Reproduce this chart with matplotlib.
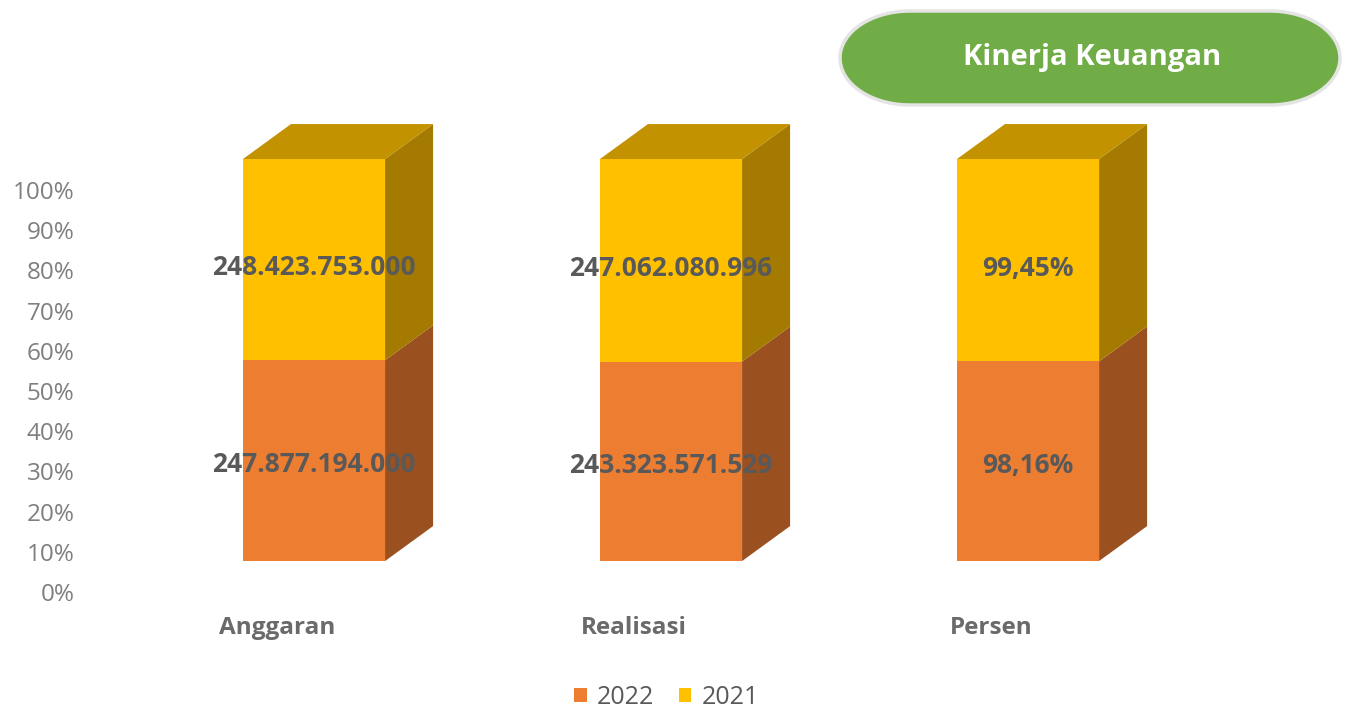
import matplotlib
matplotlib.use("Agg")
import numpy as np
import matplotlib.pyplot as plt
from matplotlib.patches import Polygon, Patch
from matplotlib.transforms import IdentityTransform

plt.rcParams['font.family'] = ['Open Sans', 'DejaVu Sans']

# data
categories = ['Anggaran', 'Realisasi', 'Persen']
val_2022 = [247877194000, 243323571529, 98.16]
val_2021 = [248423753000, 247062080996, 99.45]
text_2022 = ['247.877.194.000', '243.323.571.529', '98,16%']
text_2021 = ['248.423.753.000', '247.062.080.996', '99,45%']
series_names = ['2022', '2021']

# colours: front, side, top
c22 = ('#ED7D31', '#9B5020', '#B8601F')
c21 = ('#FFC000', '#A47B00', '#C29200')

# 3d box settings
width = 0.398
dx, dy = 0.1345, 8.7      # depth offset (x units, percent units)
base = 7.7                # floor offset of the front faces

fig = plt.figure(figsize=(13.49, 7.13), dpi=100)
ax = fig.add_axes([80 / 1349, 0, 1 - 80 / 1349, 1])
ax.set_xlim(-0.6555, 2.899)
ax.set_ylim(-30.1, 147.26)
for s in ax.spines.values():
    s.set_visible(False)
ax.set_xticks([])
ax.set_yticks(range(0, 101, 10))
ax.set_yticklabels([f'{v}%' for v in range(0, 101, 10)])
ax.tick_params(axis='y', length=0, pad=4, labelsize=17.5, labelcolor='#7F7F7F')


def box(x0, x1, y0, y1, colors, top=False):
    front, side, topc = colors
    ax.add_patch(Polygon([(x0, y0), (x1, y0), (x1, y1), (x0, y1)],
                         closed=True, fc=front, ec='none'))
    ax.add_patch(Polygon([(x1, y0), (x1 + dx, y0 + dy), (x1 + dx, y1 + dy), (x1, y1)],
                         closed=True, fc=side, ec='none'))
    if top:
        ax.add_patch(Polygon([(x0, y1), (x0 + dx, y1 + dy), (x1 + dx, y1 + dy), (x1, y1)],
                             closed=True, fc=topc, ec='none'))


for i, cat in enumerate(categories):
    total = val_2022[i] + val_2021[i]
    p22 = val_2022[i] / total * 100
    p21 = val_2021[i] / total * 100
    x0, x1 = i - width / 2, i + width / 2
    b, s, t = base, base + p22, base + p22 + p21
    box(x0, x1, b, s, c22)
    box(x0, x1, s, t, c21, top=True)
    ax.text(i, (b + s) / 2 - 1.0, text_2022[i], ha='center', va='center',
            fontsize=19, fontweight='bold', color='#595959')
    ax.text(i, (s + t) / 2 - 2.0, text_2021[i], ha='center', va='center',
            fontsize=19, fontweight='bold', color='#595959')
    ax.text(i - 0.104, -9, cat, ha='center', va='center',
            fontsize=17.5, fontweight='bold', color='#6A6A6A')

# legend
handles = [Patch(fc=c22[0], ec='none'), Patch(fc=c21[0], ec='none')]
fig.legend(handles, series_names, loc='center', bbox_to_anchor=(0.494, 1 - 697 / 713),
           ncol=2, frameon=False, fontsize=18, labelcolor='#595959',
           handlelength=0.5, handleheight=0.5, handletextpad=0.4, columnspacing=1.0)

# title badge: pill with elliptical ends (pixel coords)
cx, cy = 1090, 713 - 58
half_len, rx, ry = 180, 70, 47
ang = np.linspace(-np.pi / 2, np.pi / 2, 60)
right = np.column_stack([cx + half_len + rx * np.cos(ang), cy + ry * np.sin(ang)])
left = np.column_stack([cx - half_len - rx * np.cos(ang), cy - ry * np.sin(ang)])
pill = np.vstack([right, left])
fig.patches.append(Polygon(pill, closed=True, transform=IdentityTransform(),
                           fc='#70AD47', ec='#E4E4E4', lw=2.5))
fig.text(1092 / 1349, 1 - 58 / 713, 'Kinerja Keuangan', ha='center', va='center',
         fontsize=21, fontweight='bold', color='white')

fig.savefig('out.png', dpi=100)
